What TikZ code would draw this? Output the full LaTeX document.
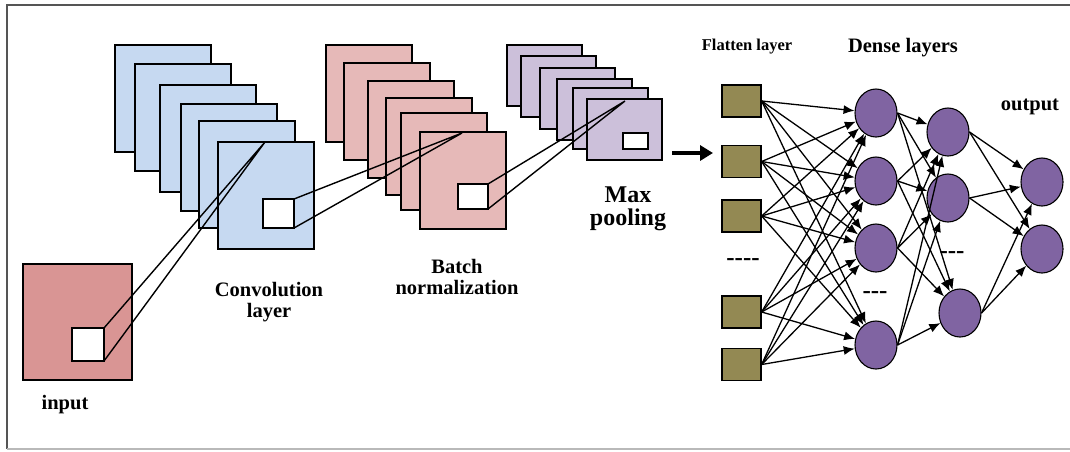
\documentclass[tikz,border=0pt]{standalone}
\usepackage{fontspec}
\setmainfont{Liberation Serif}
\usepackage{tikz}
\usetikzlibrary{arrows.meta,shapes.geometric}

\definecolor{convblue}{HTML}{C6D9F1}
\definecolor{bnpink}{HTML}{E6B9B8}
\definecolor{inpink}{HTML}{D99594}
\definecolor{poolpurple}{HTML}{CCC0DA}
\definecolor{flatolive}{HTML}{938953}
\definecolor{densepurple}{HTML}{8064A2}
\definecolor{framegray}{HTML}{555555}

\tikzset{
  fmap/.style={draw=black, line width=1.4pt, inner sep=0pt, outer sep=0pt, anchor=north west},
  window/.style={fmap, fill=white},
  unit/.style={draw=black, line width=1.3pt, fill=flatolive, minimum width=39pt, minimum height=32pt, inner sep=0pt},
  neuron/.style={ellipse, draw=black, line width=1.1pt, fill=densepurple, minimum width=42pt, minimum height=48pt, inner sep=0pt},
  lbl/.style={font=\bfseries\fontsize{20.5}{21}\selectfont, align=center},
  gap/.style={font=\bfseries\fontsize{25}{25}\selectfont},
  wire/.style={line width=1.4pt},
  syn/.style={line width=1.3pt, -{Latex[length=11pt,width=9pt]}},
}

\begin{document}
\begin{tikzpicture}[x=1pt,y=-1pt]
\useasboundingbox (0,0) rectangle (1070,451);% same size as the 1070x451 image, y runs downwards
\draw[framegray, line width=2pt] (1070,5) -- (7,5) -- (7,449);% frame, no right edge
\draw[gray!55, line width=1.5pt] (7,449) -- (1070,449);

% convolution stack (back to front)
\foreach \n/\x/\y in {1/115/45, 2/135/64, 3/160/85, 4/181/104, 5/199/121, 6/218/142}
  \node[fmap, fill=convblue, minimum width=96pt, minimum height=107pt] (conv\n) at (\x,\y) {};
% batch normalization stack
\foreach \n/\x/\y in {1/326/45, 2/344/63, 3/368/81, 4/386/98, 5/401/113, 6/420/132}
  \node[fmap, fill=bnpink, minimum width=86pt, minimum height=97pt] (bn\n) at (\x,\y) {};
% max pooling stack
\foreach \n/\x/\y in {1/507/45, 2/521/56, 3/540/68, 4/557/79, 5/573/88, 6/587/99}
  \node[fmap, fill=poolpurple, minimum width=75pt, minimum height=61pt] (pool\n) at (\x,\y) {};
% input image
\node[fmap, fill=inpink, minimum width=109pt, minimum height=116pt] (input) at (23,264) {};

% receptive windows
\node[window, minimum width=32pt, minimum height=33pt] (inwin) at (72,328) {};
\node[window, minimum width=31pt, minimum height=29pt] (convwin) at (263,199) {};
\node[window, minimum width=30pt, minimum height=25pt] (bnwin) at (458,184) {};
\node[window, minimum width=25pt, minimum height=16pt] (poolwin) at (623,133) {};

\coordinate (convtip) at (265,142);% where the input window projects to
\coordinate (bntip) at (462,133);
\coordinate (pooltip) at (625,101);
\draw[wire] (inwin.north east) -- (convtip) -- (inwin.south east);
\draw[wire] (convwin.north east) -- (bntip) -- (convwin.south east);
\draw[wire] (bnwin.north east) -- (pooltip) -- (bnwin.south east);

\node[lbl] (inlbl) at (65,405) {input};
\node[lbl] (convlbl) at (269,302) {Convolution\\layer};
\node[lbl] (bnlbl) at (457,277) {Batch\\normalization};
\node[lbl, font=\bfseries\fontsize{24}{23}\selectfont] (poollbl) at (628,209) {Max\\pooling};

% into the dense part
\coordinate (arrowstart) at (672,153);
\coordinate (arrowend) at (713,153);
\draw[line width=4pt, -{Triangle[length=13pt,width=15pt]}] (arrowstart) -- (arrowend);

% flatten layer
\node[unit] (fl1) at (741.5,101) {};
\node[unit] (fl2) at (741.5,161.5) {};
\node[unit] (fl3) at (741.5,216) {};
\node[unit] (fl4) at (741.5,312) {};
\node[unit] (fl5) at (741.5,364.5) {};
\node[gap] (fldots) at (743,262) {{-}{-}{-}{-}};

% dense layers
\node[neuron] (d1) at (876,113) {};
\node[neuron] (d2) at (876,181) {};
\node[neuron] (d3) at (876,248) {};
\node[neuron] (d4) at (876,345) {};
\node[gap] (ddots) at (875,295) {{-}{-}{-}};
\node[neuron] (e1) at (948,132) {};
\node[neuron] (e2) at (948,198) {};
\node[neuron] (e3) at (960,313) {};
\node[gap] (edots) at (952,255) {{-}{-}{-}};
% output
\node[neuron] (o1) at (1042,182) {};
\node[neuron] (o2) at (1042,249) {};

\foreach \i in {1,...,5}
  \foreach \j in {1,...,4}
    \draw[syn] (fl\i.east) -- (d\j);
\foreach \i in {1,...,4}
  \foreach \j in {1,...,3}
    \draw[syn] (d\i.east) -- (e\j);
\foreach \i in {1,...,3}
  \foreach \j in {1,2}
    \draw[syn] (e\i.east) -- (o\j);

\node[lbl, font=\bfseries\fontsize{16.5}{17}\selectfont] (fllbl) at (747,47) {Flatten layer};
\node[lbl] (denselbl) at (903,48) {Dense layers};
\node[lbl] (outlbl) at (1030,107) {output};
\end{tikzpicture}
\end{document}
